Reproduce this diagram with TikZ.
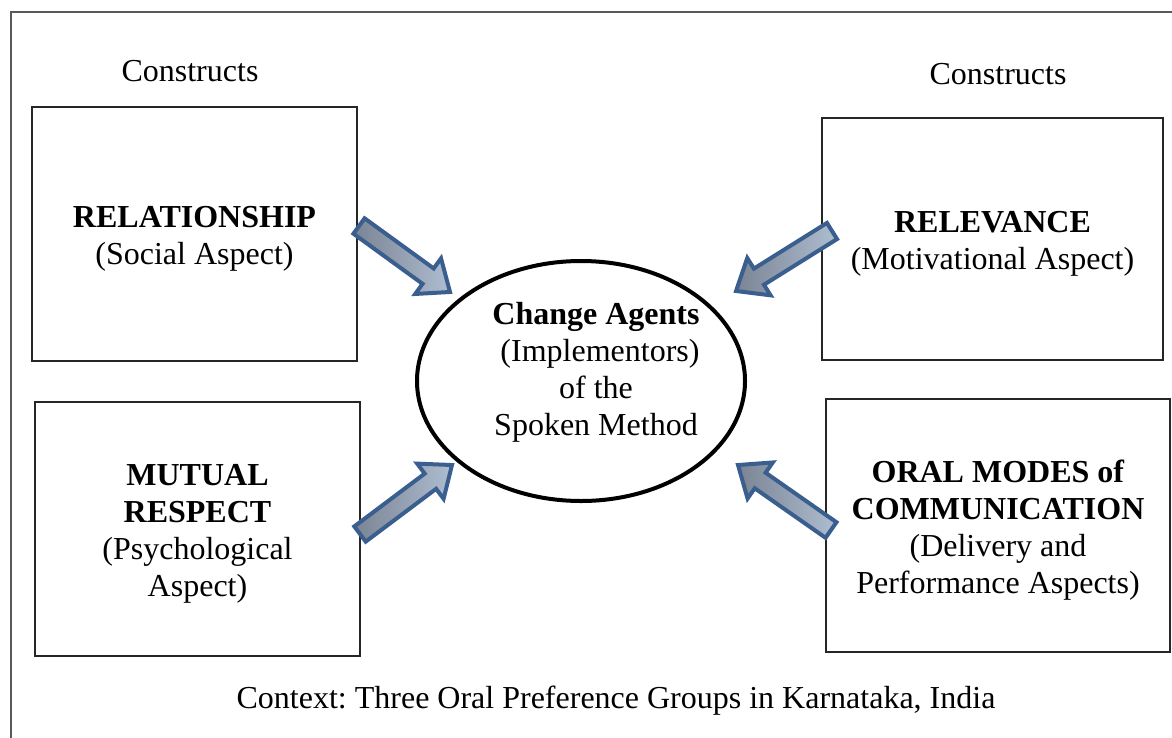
\documentclass[tikz,border=0pt]{standalone}
\usepackage{fontspec}
\setmainfont{Liberation Serif}
\frenchspacing
\usetikzlibrary{calc,shapes.geometric}
\definecolor{arrline}{HTML}{3A5F8F}
\definecolor{arrdark}{HTML}{7A8494}
\definecolor{arrlight}{HTML}{AEBDD0}
\tikzset{
  every node/.style={font=\fontsize{32}{37}\selectfont},
  cbox/.style={draw=black!85, line width=1.6pt, inner sep=0pt},
  hub/.style={draw=black, line width=4pt, ellipse, inner sep=0pt, minimum width=328pt, minimum height=240pt},
  txt/.style={align=center, inner sep=0pt},
  blockarr/.style={draw=arrline, line width=4pt, line join=miter, left color=arrdark, right color=arrlight},
  frame/.style={draw=black!65, line width=2pt}
}
\newcommand\blockarrow[2]{%
  \path[blockarr] let \p1=($(#2)-(#1)$), \n1={atan2(\y1,\x1)}, \n2={veclen(\x1,\y1)} in
    [shift={(#1)}, rotate=\n1]
    (0pt,-9.5pt) -- (\n2-27pt,-9.5pt) -- (\n2-27pt,-22pt) -- (\n2,0pt)
    -- (\n2-27pt,22pt) -- (\n2-27pt,9.5pt) -- (0pt,9.5pt) -- cycle;}
\begin{document}
\begin{tikzpicture}[x=1pt,y=-1pt]
\clip (0,0) rectangle (1172,737);
\fill[white] (0,0) rectangle (1172,737);
\draw[frame] (11,12) rectangle (1190,760);

\node[txt] (c1) at (190,71) {Constructs};
\node[txt] (c2) at (998,74) {Constructs};

\node[cbox, minimum width=325pt, minimum height=254pt] (b1) at (194.5,234) {};
\node[cbox, minimum width=325pt, minimum height=254pt] (b2) at (197.5,529) {};
\node[cbox, minimum width=341pt, minimum height=242pt] (b3) at (992.5,239) {};
\node[cbox, minimum width=344pt, minimum height=253pt] (b4) at (998,525.5) {};

\node[txt] (b1t) at ($(b1.center)+(0,5)$)
  {\textbf{RELATIONSHIP}\\(Social Aspect)};
\node[txt] (b2t) at ($(b2.center)+(0,5)$)
  {\textbf{MUTUAL}\\\textbf{RESPECT}\\(Psychological\\Aspect)};
\node[txt] (b3t) at ($(b3.center)+(0,5)$)
  {\textbf{RELEVANCE}\\(Motivational Aspect)};
\node[txt] (b4t) at ($(b4.center)+(0,5)$)
  {\textbf{ORAL MODES of}\\\textbf{COMMUNICATION}\\(Delivery and\\Performance Aspects)};

\node[hub] (hub) at (581,381) {};
\node[txt] (hubtext) at (596,372)
  {\textbf{Change Agents}\\\ (Implementors)\\of the\\Spoken Method};

\coordinate (t1) at (359,226);
\coordinate (h1) at (450,292);
\coordinate (t2) at (360,534);
\coordinate (h2) at (452,465);
\coordinate (t3) at (832,231);
\coordinate (h3) at (736,291);
\coordinate (t4) at (831,530);
\coordinate (h4) at (738,465);
\blockarrow{t1}{h1}
\blockarrow{t2}{h2}
\blockarrow{t3}{h3}
\blockarrow{t4}{h4}

\node[txt] (ctx) at (616,701) {Context: Three Oral Preference Groups in Karnataka, India};
\end{tikzpicture}
\end{document}
